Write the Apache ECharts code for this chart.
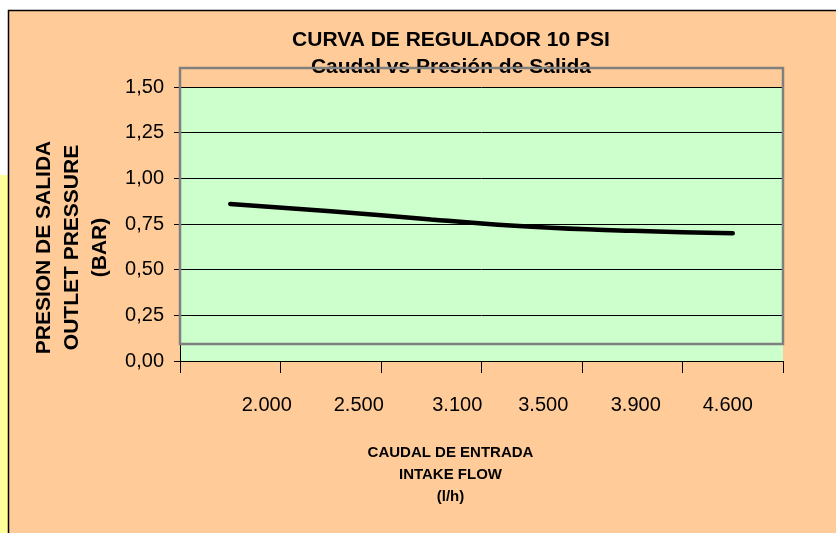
<!DOCTYPE html>
<html>
<head>
<meta charset="utf-8">
<script src="https://cdn.jsdelivr.net/npm/echarts@6/dist/echarts.min.js"></script>
<style>
  html, body { margin: 0; padding: 0; background: #fff; }
  #chart { width: 836px; height: 533px; }
</style>
</head>
<body>
<div id="chart"></div>
<script>
// caudal de entrada (l/h) and presion de salida (bar)
const caudal = ['2.000', '2.500', '3.100', '3.500', '3.900', '4.600'];
const presion = [0.86, 0.82, 0.775, 0.735, 0.713, 0.70];

// Excel put the x labels a bit off their categories
const labelPad = [[0, 0, 0, 73], [0, 0, 0, 56], [0, 0, 0, 52], [0, 0, 0, 23], [0, 0, 0, 7], [0, 10, 0, 0]];

const font = 'Liberation Sans, Arial, sans-serif';

const chart = echarts.init(document.getElementById('chart'));

const rich = {};
labelPad.forEach(function (p, i) {
    rich['s' + i] = { padding: p, fontSize: 20, fontFamily: font, color: '#000' };
});

chart.setOption({
    backgroundColor: '#FFCC99',
    animation: false,
    title: {
        text: 'CURVA DE REGULADOR 10 PSI\nCaudal vs Presión de Salida',
        left: 446,
        top: 22,
        textAlign: 'center',
        textStyle: {
            fontFamily: font,
            fontSize: 21,
            fontWeight: 'bold',
            color: '#000',
            lineHeight: 27
        }
    },
    grid: {
        left: 180,
        right: 53,
        top: 87,
        bottom: 172,
        show: true,
        backgroundColor: '#CCFFCC',
        borderWidth: 0
    },
    xAxis: {
        type: 'category',
        data: caudal,
        boundaryGap: true,
        name: 'CAUDAL DE ENTRADA\nINTAKE FLOW\n(l/h)',
        nameLocation: 'middle',
        nameGap: 81,
        nameTextStyle: {
            fontFamily: font,
            fontSize: 15,
            fontWeight: 'bold',
            color: '#000',
            lineHeight: 22,
            padding: [0, 62, 0, 0]
        },
        axisLine: { lineStyle: { color: '#000', width: 1 } },
        axisTick: { show: true, interval: 0, length: 12, lineStyle: { color: '#000' } },
        axisLabel: {
            interval: 0,
            margin: 34,
            fontFamily: font,
            fontSize: 20,
            color: '#000',
            formatter: function (v, i) { return '{s' + i + '|' + v + '}'; },
            rich: rich
        },
        splitLine: { show: false }
    },
    yAxis: {
        type: 'value',
        min: 0,
        max: 1.5,
        interval: 0.25,
        name: 'PRESION DE SALIDA\nOUTLET PRESSURE\n(BAR)',
        nameLocation: 'middle',
        nameRotate: 90,
        nameGap: 66,
        nameTextStyle: {
            fontFamily: font,
            fontSize: 21,
            fontWeight: 'bold',
            color: '#000',
            lineHeight: 28,
            padding: [0, 47, 0, 0]
        },
        axisLine: { show: true, lineStyle: { color: '#000', width: 1 } },
        axisTick: { show: true, length: 6, lineStyle: { color: '#000' } },
        axisLabel: {
            margin: 16,
            fontFamily: font,
            fontSize: 20,
            color: '#000',
            formatter: function (v) { return v.toFixed(2).replace('.', ','); }
        },
        splitLine: { show: true, lineStyle: { color: '#000', width: 1 } }
    },
    graphic: [
        { type: 'rect', silent: true, shape: { x: 0, y: 0, width: 836, height: 10 }, style: { fill: '#fff' } },
        { type: 'rect', silent: true, shape: { x: 0, y: 0, width: 8, height: 175 }, style: { fill: '#fff' } },
        { type: 'rect', silent: true, shape: { x: 0, y: 175, width: 8, height: 358 }, style: { fill: '#FFFF99' } },
        { type: 'polyline', silent: true, shape: { points: [[8.5, 533], [8.5, 10.5], [836, 10.5]] }, style: { stroke: '#000', lineWidth: 1.5, fill: null } },
        { type: 'rect', silent: true, z: 10, shape: { x: 180, y: 68, width: 603, height: 276 }, style: { fill: null, stroke: '#808080', lineWidth: 2.5 } }
    ],
    series: [
        {
            type: 'line',
            data: presion,
            smooth: true,
            symbol: 'none',
            lineStyle: { color: '#000', width: 4.5, cap: 'round' }
        }
    ]
});
</script>
</body>
</html>
